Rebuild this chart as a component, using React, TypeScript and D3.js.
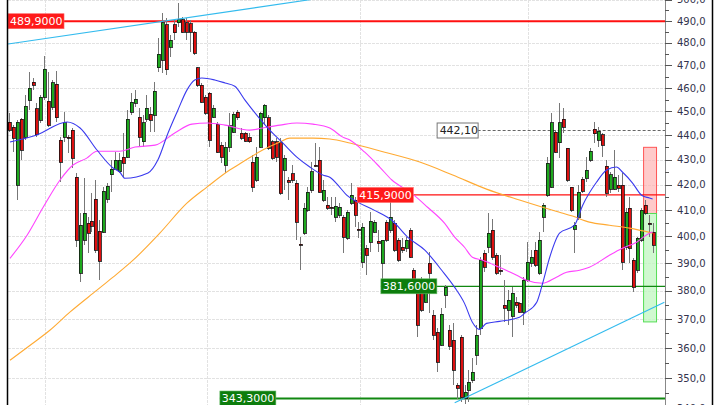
import * as d3 from "d3"

// daily candles: [open, high, low, close]
const ohlc: [number, number, number, number][] = [
  [445.5, 449.3, 441.3, 442.1], [443.4, 444.2, 433.0, 438.8], [419.8, 446.3, 413.9, 445.5], [446.7, 447.2, 429.8, 433.9],
  [439.2, 456.9, 438.0, 452.2], [454.8, 467.0, 450.5, 460.0], [462.6, 464.4, 459.1, 461.3], [451.0, 453.5, 439.2, 440.1],
  [446.3, 456.9, 445.1, 456.1], [456.1, 474.1, 454.8, 468.3], [454.4, 467.0, 443.4, 444.2], [451.8, 463.5, 450.5, 462.2],
  [461.7, 467.4, 445.5, 447.2], [438.0, 439.2, 421.0, 429.0], [439.2, 449.7, 437.2, 445.1], [439.2, 440.1, 432.6, 438.8],
  [442.1, 443.0, 426.6, 430.6], [422.9, 424.6, 395.9, 398.5], [386.3, 408.8, 383.0, 404.2], [398.5, 422.5, 396.6, 408.8],
  [405.0, 407.3, 393.7, 401.2], [405.8, 416.6, 401.6, 403.8], [414.3, 421.8, 393.7, 394.8], [401.9, 406.1, 383.8, 390.7],
  [401.6, 419.0, 401.2, 417.4], [414.3, 420.6, 412.7, 419.4], [423.8, 429.8, 417.0, 426.2], [426.2, 433.0, 425.8, 429.8],
  [425.0, 432.6, 424.6, 429.8], [431.0, 440.9, 422.9, 428.6], [431.0, 450.5, 430.6, 446.7], [449.7, 457.8, 448.4, 453.9],
  [453.5, 459.1, 451.8, 455.2], [447.6, 451.4, 435.1, 439.2], [437.2, 448.4, 435.1, 445.1], [446.7, 456.9, 445.5, 451.4],
  [448.8, 451.8, 441.3, 446.3], [448.4, 462.6, 441.3, 458.7], [468.8, 482.2, 467.0, 474.9], [472.3, 493.7, 466.5, 489.1],
  [488.2, 491.4, 465.6, 467.9], [478.1, 483.6, 473.6, 481.3], [488.2, 490.5, 481.3, 484.5], [489.1, 498.4, 487.3, 490.5],
  [490.5, 491.8, 484.5, 484.9], [489.1, 491.4, 481.3, 484.9], [488.7, 490.5, 475.9, 484.9], [484.9, 485.5, 474.5, 475.4],
  [468.8, 469.2, 460.4, 461.3], [461.3, 462.2, 453.5, 453.9], [456.1, 456.9, 448.4, 449.3], [457.8, 458.2, 435.1, 438.0],
  [447.6, 452.7, 447.2, 451.4], [444.6, 445.5, 432.6, 433.0], [435.9, 437.2, 428.6, 431.0], [427.8, 437.2, 424.6, 435.1],
  [435.1, 449.3, 433.0, 444.2], [441.3, 449.7, 440.9, 448.8], [449.7, 450.5, 446.3, 447.2], [440.9, 443.0, 438.0, 438.8],
  [440.9, 441.3, 437.2, 437.6], [439.2, 440.9, 436.8, 437.2], [429.0, 431.8, 417.0, 419.0], [421.8, 435.1, 421.0, 431.0],
  [435.1, 449.8, 434.7, 449.3], [447.2, 453.1, 444.2, 452.7], [447.2, 448.4, 433.9, 434.7], [437.2, 438.0, 429.8, 430.6],
  [437.2, 438.8, 429.0, 431.0], [436.8, 438.8, 415.8, 416.6], [425.8, 431.8, 417.8, 430.6], [421.8, 422.9, 413.9, 421.0],
  [424.2, 427.8, 420.6, 421.8], [420.6, 421.8, 398.5, 405.4], [397.0, 399.7, 387.4, 396.6], [401.2, 412.7, 400.4, 410.8],
  [410.0, 419.0, 409.2, 417.0], [417.8, 429.0, 416.6, 425.0], [427.8, 436.8, 427.0, 427.4], [429.8, 435.1, 416.6, 417.0],
  [413.9, 421.8, 413.1, 417.8], [411.9, 415.1, 410.0, 410.8], [411.1, 415.1, 408.0, 410.8], [407.3, 415.1, 405.4, 411.5],
  [408.0, 412.7, 406.9, 411.1], [407.3, 408.0, 393.7, 399.7], [399.3, 410.0, 398.5, 409.2], [412.7, 420.6, 411.9, 415.8],
  [413.9, 415.1, 403.4, 408.0], [402.7, 405.4, 399.3, 402.3], [390.4, 405.0, 388.2, 403.4], [395.5, 396.6, 385.6, 392.9],
  [397.8, 409.2, 394.1, 405.8], [401.6, 406.1, 401.2, 405.4], [398.2, 402.3, 394.1, 397.4], [390.0, 398.5, 381.2, 398.5],
  [405.4, 406.1, 397.8, 398.5], [402.3, 413.1, 401.2, 407.3], [405.0, 406.1, 394.1, 394.8], [398.5, 399.3, 390.4, 391.1],
  [395.9, 399.3, 393.7, 394.8], [395.5, 399.7, 394.1, 398.5], [402.3, 403.1, 391.8, 392.2], [387.4, 388.2, 380.2, 383.8],
  [380.2, 381.2, 363.7, 367.8], [383.8, 384.9, 372.4, 373.1], [375.9, 382.7, 375.5, 381.2], [390.0, 394.1, 372.0, 386.3],
  [371.3, 373.1, 362.7, 364.4], [365.4, 366.8, 351.9, 355.2], [361.0, 373.8, 360.6, 371.6], [378.4, 381.9, 373.8, 381.2],
  [366.1, 367.8, 359.3, 360.6], [362.7, 368.5, 347.6, 352.6], [347.6, 348.2, 343.0, 346.6], [363.7, 364.4, 342.1, 343.7],
  [343.3, 347.6, 341.4, 345.3], [346.0, 352.6, 342.1, 348.6], [349.3, 356.6, 348.2, 351.9], [357.6, 367.8, 354.2, 364.4],
  [366.8, 392.2, 364.4, 391.1], [393.7, 394.8, 386.7, 388.5], [395.9, 408.8, 393.7, 401.2], [402.3, 406.5, 391.1, 392.2],
  [392.9, 393.7, 385.6, 386.3], [387.4, 392.9, 385.6, 387.1], [374.8, 383.8, 368.9, 373.8], [373.1, 380.2, 367.8, 376.6],
  [371.0, 381.2, 363.7, 379.1], [375.9, 377.7, 373.8, 374.8], [375.5, 375.9, 372.0, 372.4], [372.4, 384.9, 367.8, 383.8],
  [383.8, 397.8, 383.0, 390.4], [390.0, 394.8, 388.5, 392.2], [394.8, 397.8, 388.5, 389.3], [386.3, 401.6, 385.6, 398.5],
  [407.3, 412.7, 401.6, 411.9], [415.8, 431.0, 415.1, 428.6], [419.0, 449.3, 418.6, 445.1], [441.3, 442.1, 432.6, 433.0],
  [436.8, 453.5, 430.6, 445.1], [446.7, 451.4, 440.9, 443.4], [434.7, 434.9, 421.0, 421.8], [419.0, 419.2, 409.2, 410.0],
  [402.7, 405.4, 393.7, 404.2], [407.3, 419.8, 406.1, 417.0], [422.1, 422.9, 416.6, 417.4], [422.5, 431.0, 421.0, 425.8],
  [429.8, 434.7, 429.0, 433.4], [442.5, 445.5, 436.8, 440.5], [438.0, 443.4, 435.1, 441.7], [440.1, 440.9, 431.0, 435.9],
  [427.4, 429.8, 415.1, 416.6], [418.2, 425.0, 416.6, 423.8], [418.2, 433.9, 417.8, 422.9], [419.8, 423.8, 417.0, 418.6],
  [419.8, 424.6, 387.4, 390.4], [395.9, 410.8, 394.8, 409.2], [410.8, 415.1, 390.0, 395.5], [391.1, 391.8, 379.5, 381.2],
  [387.4, 399.7, 386.3, 399.3], [398.5, 410.8, 397.8, 410.0], [411.9, 413.9, 408.0, 408.8], [405.0, 408.0, 399.7, 404.6],
  [401.6, 405.0, 393.7, 396.6],
]

// moving averages: [candle index, price]
const maFast: [number, number][] = [
  [0.25, 437.2], [7.1, 440.1], [14.8, 445.5], [18.1, 443.0], [22.4, 433.9], [26.5, 426.6], [28.2, 425.0], [29.5, 422.5],
  [35.4, 424.6], [37.9, 429.8], [40.5, 440.9], [43.0, 450.5], [45.3, 459.1], [47.3, 463.5], [49.1, 464.4], [52.4, 463.5],
  [55.0, 462.2], [57.5, 460.8], [60.1, 454.8], [63.1, 448.4], [66.4, 442.1], [69.7, 436.8], [73.3, 431.0], [76.6, 427.0],
  [79.9, 423.8], [81.7, 422.9], [84.2, 419.0], [86.0, 415.8], [88.8, 413.1], [93.1, 409.9], [97.5, 406.1], [101.5, 399.7],
  [105.9, 394.8], [110.2, 387.4], [113.5, 381.2], [116.0, 375.5], [118.0, 368.9], [119.8, 366.4], [121.6, 368.5],
  [124.9, 369.2], [130.0, 370.6], [131.3, 372.0], [134.4, 375.9], [135.9, 382.7], [137.7, 392.2], [140.2, 401.2],
  [144.0, 404.2], [146.1, 411.9], [149.6, 420.9], [152.2, 425.8], [154.7, 427.0], [156.2, 425.0], [158.8, 420.6],
  [161.1, 415.8], [163.1, 414.7], [163.9, 414.3],
]
const maMid: [number, number][] = [
  [0.25, 391.8], [4.6, 400.4], [8.7, 411.1], [13.0, 421.8], [16.3, 427.8], [19.8, 430.6], [22.4, 433.4], [28.2, 433.4],
  [32.1, 435.1], [37.2, 435.9], [42.2, 440.9], [46.6, 444.6], [50.6, 445.1], [55.0, 444.2], [61.3, 442.1], [64.6, 443.0],
  [69.0, 444.2], [73.3, 445.1], [77.4, 444.6], [81.7, 443.0], [85.0, 439.2], [86.8, 438.0], [90.6, 433.0], [94.4, 427.0],
  [97.5, 421.8], [102.5, 416.6], [106.6, 411.1], [110.9, 405.0], [113.5, 399.7], [116.0, 395.9], [118.0, 392.2],
  [120.6, 391.1], [124.9, 388.5], [129.3, 385.6], [131.8, 383.8], [135.9, 382.7], [139.4, 384.9], [142.0, 386.7],
  [145.3, 387.4], [147.8, 388.5], [152.9, 392.9], [156.2, 395.5], [159.8, 397.8], [163.1, 401.2], [163.9, 401.6],
]
const maSlow: [number, number][] = [
  [0.25, 355.9], [5.3, 360.9], [10.4, 366.1], [15.5, 372.4], [22.4, 380.2], [26.5, 384.9], [31.6, 391.1], [38.4, 401.2],
  [45.3, 412.7], [50.4, 419.0], [56.2, 425.8], [59.5, 429.0], [64.6, 433.9], [69.0, 437.2], [71.5, 438.8], [77.4, 438.8],
  [81.7, 438.4], [86.8, 436.8], [95.7, 433.0], [104.6, 429.0], [113.0, 423.8], [121.6, 418.2], [130.0, 413.9],
  [135.9, 411.1], [140.2, 409.2], [143.5, 407.7], [147.8, 405.4], [152.9, 404.2], [158.0, 403.1], [163.9, 401.2],
]

// trend lines: two [candle index, price] anchors each
const trendUpper: [number, number][] = [[-0.25, 479.5], [77.9, 500.3]]
const trendLower: [number, number][] = [[113.5, 341.9], [166.9, 375.9]]

// horizontal levels
const levelValues = [489.9, 415.9, 381.6, 343.3]
const levelStart = [-0.25, 88.7, 94.7, 53.7]
const levelIsResistance = [true, true, false, false]

const lastMark = 442.1
const lastMarkStart = 108.9

// target zone at the right edge
const zoneIdx = [161.6, 164.9]
const zoneUp = [435.0, 408.7]
const zoneDown = [408.7, 369.0]

const monthStarts = [9.2, 50.4, 89.3, 132.1]
const yTicks = [340, 350, 360, 370, 380, 390, 400, 410, 420, 430, 440, 450, 460, 470, 480, 490, 500]
const yMinor = [345, 355, 365, 375, 385, 395, 405, 415, 425, 435, 445, 455, 465, 475, 485, 495]

const W = 720
const H = 405
const LEFT = 8
const AXIS_X = 665
const FONT = "DejaVu Sans, Verdana, sans-serif"

const comma = (v: number, d: number) => v.toFixed(d).replace(".", ",")

export default function App() {
  const x = d3.scaleLinear().domain([0, ohlc.length - 1]).range([9, 653])
  const y = d3.scaleLog().domain([350, 490]).range([378, 21])

  const maLine = d3
    .line<[number, number]>()
    .x((d) => x(d[0]))
    .y((d) => y(d[1]))
    .curve(d3.curveMonotoneX)
  const straight = d3
    .line<[number, number]>()
    .x((d) => x(d[0]))
    .y((d) => y(d[1]))

  return (
    <svg
      width={W}
      height={H}
      style={{ position: "fixed", left: 0, top: 0, background: "#fff" }}
      fontFamily={FONT}
    >
      <defs>
        <clipPath id="plot">
          <rect x={LEFT} y={0} width={AXIS_X - LEFT} height={H} />
        </clipPath>
      </defs>
      <rect width={W} height={H} fill="#fff" />

      {/* grid */}
      <g stroke="#e2e2e2" strokeDasharray="3,1" shapeRendering="crispEdges">
        {yTicks.map((t) => (
          <line key={t} x1={LEFT} x2={AXIS_X} y1={Math.round(y(t)) + 0.5} y2={Math.round(y(t)) + 0.5} />
        ))}
        {monthStarts.map((m) => (
          <line key={m} x1={Math.round(x(m)) + 0.5} x2={Math.round(x(m)) + 0.5} y1={0} y2={H} />
        ))}
      </g>

      <g clipPath="url(#plot)">
        {/* target zone */}
        <rect
          x={x(zoneIdx[0])}
          width={x(zoneIdx[1]) - x(zoneIdx[0])}
          y={y(zoneUp[0])}
          height={y(zoneUp[1]) - y(zoneUp[0])}
          fill="#ffb3b3"
          fillOpacity={0.7}
          stroke="#ff5555"
        />
        <rect
          x={x(zoneIdx[0])}
          width={x(zoneIdx[1]) - x(zoneIdx[0])}
          y={y(zoneDown[0])}
          height={y(zoneDown[1]) - y(zoneDown[0])}
          fill="#c4f7c4"
          fillOpacity={0.8}
          stroke="#55dd55"
        />

        {/* levels */}
        {levelValues.map((v, i) => (
          <line
            key={v}
            x1={x(levelStart[i])}
            x2={AXIS_X}
            y1={y(v)}
            y2={y(v)}
            stroke={levelIsResistance[i] ? "#ff1010" : "#118811"}
            strokeWidth={i === 0 || i === 3 ? 2 : 1.2}
          />
        ))}
        <line
          x1={x(lastMarkStart) + 41}
          x2={AXIS_X}
          y1={Math.round(y(lastMark)) + 0.5}
          y2={Math.round(y(lastMark)) + 0.5}
          stroke="#666"
          strokeDasharray="3,2"
        />

        {/* candles */}
        <g shapeRendering="crispEdges">
          {ohlc.map(([o, h, l, c], i) => {
            const cx = Math.round(x(i))
            const top = y(Math.max(o, c))
            const bh = Math.max(1, Math.abs(y(o) - y(c)))
            return (
              <g key={i}>
                <line x1={cx + 0.5} x2={cx + 0.5} y1={y(h)} y2={y(l)} stroke="#777" />
                <rect
                  x={cx - 1}
                  y={top}
                  width={3}
                  height={bh}
                  fill={c >= o ? "#1ea81e" : "#dd1010"}
                  stroke="#111"
                  strokeWidth={0.8}
                />
              </g>
            )
          })}
        </g>

        {/* moving averages and trend lines */}
        <path d={maLine(maSlow) ?? ""} fill="none" stroke="#ffaa33" strokeWidth={1.1} />
        <path d={maLine(maMid) ?? ""} fill="none" stroke="#ff44ff" strokeWidth={1.1} />
        <path d={maLine(maFast) ?? ""} fill="none" stroke="#3a3aee" strokeWidth={1.1} />
        <path d={straight(trendUpper) ?? ""} fill="none" stroke="#33bbee" strokeWidth={1.1} />
        <path d={straight(trendLower) ?? ""} fill="none" stroke="#33bbee" strokeWidth={1.1} />
      </g>

      {/* level labels */}
      {levelValues.map((v, i) => {
        const lx = Math.max(LEFT, x(levelStart[i]))
        return (
          <g key={v}>
            <rect
              x={lx}
              y={y(v) - 7.5}
              width={56}
              height={15}
              fill={levelIsResistance[i] ? "#ff1a1a" : "#0d7d0d"}
              stroke={levelIsResistance[i] ? "#ff6666" : "#66bb66"}
              strokeWidth={0.6}
            />
            <text x={lx + 2} y={y(v)} dy="0.36em" fontSize={11} fill="#fff">
              {comma(v, 4)}
            </text>
          </g>
        )
      })}
      <g>
        <rect
          x={x(lastMarkStart) + 0.5}
          y={Math.round(y(lastMark)) - 7}
          width={41}
          height={15}
          fill="#fff"
          stroke="#777"
        />
        <text x={x(lastMarkStart) + 3} y={y(lastMark)} dy="0.38em" fontSize={11} fill="#222">
          {comma(lastMark, 2)}
        </text>
      </g>

      {/* frame */}
      <line x1={LEFT - 0.5} x2={LEFT - 0.5} y1={0} y2={H} stroke="#000" strokeWidth={1.5} />
      <line x1={AXIS_X + 0.5} x2={AXIS_X + 0.5} y1={0} y2={H} stroke="#888" />
      <line x1={712.5} x2={712.5} y1={0} y2={H} stroke="#000" strokeWidth={1.5} />

      {/* y axis */}
      <g shapeRendering="crispEdges" stroke="#555">
        {yTicks.map((t) => (
          <line key={t} x1={AXIS_X} x2={AXIS_X + 7} y1={Math.round(y(t)) + 0.5} y2={Math.round(y(t)) + 0.5} />
        ))}
        {yMinor.map((t) => (
          <line key={t} x1={AXIS_X} x2={AXIS_X + 4} y1={Math.round(y(t)) + 0.5} y2={Math.round(y(t)) + 0.5} />
        ))}
      </g>
      {yTicks.map((t) => (
        <text key={t} x={677} y={y(t)} dy="0.36em" fontSize={10} fill="#33334d">
          {comma(t, 1)}
        </text>
      ))}
    </svg>
  )
}
